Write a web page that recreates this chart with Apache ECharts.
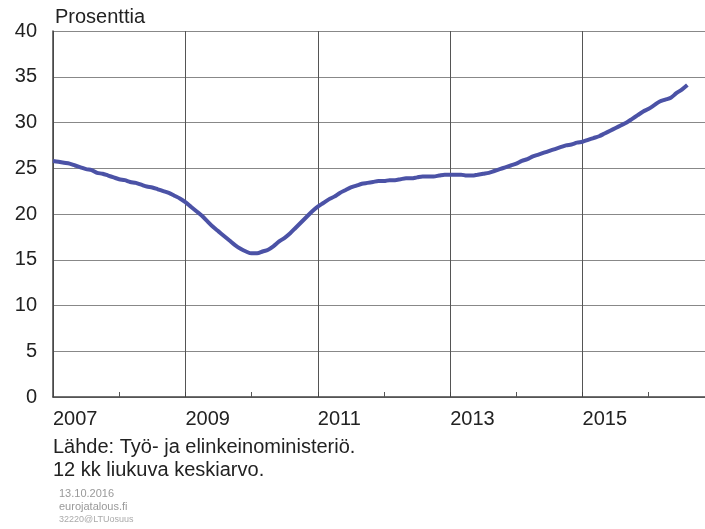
<!DOCTYPE html>
<html>
<head>
<meta charset="utf-8">
<script src="https://cdn.jsdelivr.net/npm/echarts@6/dist/echarts.min.js"></script>
<style>
  html, body { margin: 0; padding: 0; background: #fff; }
  #chart { width: 705px; height: 529px; }
</style>
</head>
<body>
<div id="chart"></div>
<script>
// 12 kk liukuva keskiarvo, kuukausittain 2007/01 - 2016/08
const startYear = 2007
const values = [
  25.8, 25.7, 25.6, 25.5, 25.3, 25.1, 24.9, 24.8, 24.5, 24.4, 24.2, 24.0,
  23.8, 23.7, 23.5, 23.4, 23.2, 23.0, 22.9, 22.7, 22.5, 22.3, 22.0, 21.7,
  21.3, 20.8, 20.3, 19.8, 19.2, 18.6, 18.1, 17.6, 17.1, 16.6, 16.2, 15.9,
  15.7, 15.7, 15.9, 16.1, 16.5, 17.0, 17.4, 17.9, 18.5, 19.1, 19.7, 20.3,
  20.8, 21.2, 21.6, 21.9, 22.3, 22.6, 22.9, 23.1, 23.3, 23.4, 23.5, 23.6,
  23.6, 23.7, 23.7, 23.8, 23.9, 23.9, 24.0, 24.1, 24.1, 24.1, 24.2, 24.3,
  24.3, 24.3, 24.3, 24.2, 24.2, 24.3, 24.4, 24.5, 24.7, 24.9, 25.1, 25.3,
  25.5, 25.8, 26.0, 26.3, 26.5, 26.7, 26.9, 27.1, 27.3, 27.5, 27.6, 27.8,
  27.9, 28.1, 28.3, 28.5, 28.8, 29.1, 29.4, 29.7, 30.0, 30.4, 30.8, 31.2,
  31.5, 31.9, 32.3, 32.5, 32.7, 33.2, 33.6, 34.1
]
const yTicks = [0, 40, 5]
const xRange = [2007, 2016.85]
const sourceLines = ['Lähde: Työ- ja elinkeinoministeriö.', '12 kk liukuva keskiarvo.']
const footerLines = ['13.10.2016', 'eurojatalous.fi', '32220@LTUosuus']

const points = values.map((v, i) => [startYear + i / 12, v])

const font = 'Liberation Sans, Arial, sans-serif'
const myChart = echarts.init(document.getElementById('chart'))

const option = {
  animation: false,
  backgroundColor: '#fff',
  grid: { left: 53, right: 0, top: 31, bottom: 132 },
  graphic: [
    { type: 'text', left: 55, top: 7, style: { text: 'Prosenttia', font: '20px ' + font, fill: '#222' } },
    { type: 'text', left: 53, top: 437, style: { text: sourceLines[0], font: '20px ' + font, fill: '#222' } },
    { type: 'text', left: 53, top: 460, style: { text: sourceLines[1], font: '20px ' + font, fill: '#222' } },
    { type: 'text', left: 59, top: 488, style: { text: footerLines[0], font: '11px ' + font, fill: '#999' } },
    { type: 'text', left: 59, top: 501, style: { text: footerLines[1], font: '11px ' + font, fill: '#999' } },
    { type: 'text', left: 59, top: 515, style: { text: footerLines[2], font: '9px ' + font, fill: '#aaa' } }
  ],
  xAxis: {
    type: 'value',
    min: xRange[0],
    max: xRange[1],
    interval: 2,
    axisLine: { show: true, onZero: false, lineStyle: { color: '#444', width: 1.5 } },
    axisTick: { show: true, inside: true, length: 5, lineStyle: { color: '#444' } },
    minorTick: { show: true, splitNumber: 2, length: 5, lineStyle: { color: '#555' } },
    splitLine: { show: true, lineStyle: { color: '#555', width: 1 } },
    axisLabel: {
      align: 'left',
      margin: 12,
      fontSize: 20,
      fontFamily: font,
      color: '#222',
      showMaxLabel: false,
      formatter: v => (Number.isInteger(v) ? String(v) : '')
    }
  },
  yAxis: {
    type: 'value',
    min: yTicks[0],
    max: yTicks[1],
    interval: yTicks[2],
    axisLine: { show: true, lineStyle: { color: '#444', width: 1.5 } },
    axisTick: { show: false },
    splitLine: { show: true, lineStyle: { color: '#888', width: 1 } },
    axisLabel: { margin: 16, fontSize: 20, fontFamily: font, color: '#222' }
  },
  series: [
    {
      type: 'line',
      data: points,
      showSymbol: false,
      smooth: 0.3,
      lineStyle: { color: '#4b52a6', width: 4 },
      z: 5
    }
  ]
}

myChart.setOption(option)
</script>
</body>
</html>
